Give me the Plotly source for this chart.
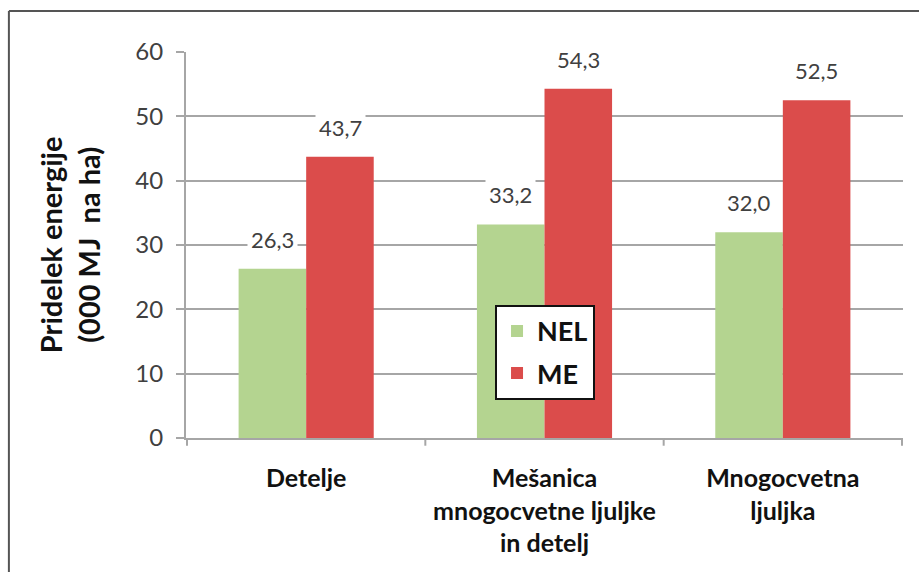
import plotly.graph_objects as go

categories = ["Detelje", "Mešanica<br>mnogocvetne ljuljke<br>in detelj", "Mnogocvetna<br>ljuljka"]
nel_values = [26.3, 33.2, 32.0]
me_values = [43.7, 54.3, 52.5]
series_names = ["NEL", "ME"]
y_ticks = [0, 10, 20, 30, 40, 50, 60]

GREEN = "#b4d490"
RED = "#db4c4b"
FONT = "Lato, 'Open Sans', sans-serif"

fig = go.Figure()
fig.add_trace(go.Bar(x=categories, y=nel_values, name=series_names[0],
                     marker=dict(color=GREEN, line=dict(width=0)), legendgroup="a"))
fig.add_trace(go.Bar(x=categories, y=me_values, name=series_names[1],
                     marker=dict(color=RED, line=dict(width=0)), legendgroup="b"))

# value labels with white boxes that interrupt the gridlines
annotations = []
for vals, shift in ((nel_values, -34), (me_values, 34)):
    for cat, v in zip(categories, vals):
        annotations.append(dict(
            x=cat, y=v, xref="x", yref="y", xshift=shift, yshift=12,
            text=f"{v:.1f}".replace(".", ","), showarrow=False,
            yanchor="bottom", bgcolor="white", borderpad=3,
            font=dict(family=FONT, size=22, color="#404040"),
        ))

annotations.append(dict(
    x=-0.163, y=0.5, xref="paper", yref="paper", textangle=-90,
    xanchor="center", yanchor="middle",
    text="<b>Pridelek energije<br>(000 MJ  na ha)</b>", showarrow=False,
    font=dict(family=FONT, size=29, color="#111111"),
))

fig.update_layout(
    width=919, height=572,
    margin=dict(l=186, r=16, t=52, b=134),
    paper_bgcolor="white", plot_bgcolor="white",
    barmode="group", bargap=0.433, bargroupgap=0,
    annotations=annotations,
    showlegend=True,
    legend=dict(
        x=0.431, y=0.345, xanchor="left", yanchor="top",
        bgcolor="white", bordercolor="#111111", borderwidth=2,
        font=dict(family=FONT, size=27, color="#111111", weight="bold"),
        tracegroupgap=4, traceorder="grouped",
    ),
    xaxis=dict(
        showline=True, linecolor="#a6a6a6", linewidth=2,
        ticks="", showgrid=False, ticklabelstandoff=17,
        tickfont=dict(family=FONT, size=25, color="#111111", weight="bold"),
    ),
    yaxis=dict(
        range=[0, 60], tickvals=y_ticks, ticktext=[str(t) for t in y_ticks],
        showgrid=True, gridcolor="#a6a6a6", gridwidth=2,
        showline=True, linecolor="#a6a6a6", linewidth=2,
        ticks="outside", ticklen=8, tickcolor="#a6a6a6", tickwidth=2,
        ticklabelstandoff=8,
        tickfont=dict(family=FONT, size=24, color="#404040"),
        zeroline=False,
    ),
    shapes=[
        # outer frame (left and top edges)
        dict(type="line", xref="paper", yref="paper", x0=-0.247, x1=-0.247, y0=-0.5, y1=1.106,
             line=dict(color="#555555", width=2)),
        dict(type="line", xref="paper", yref="paper", x0=-0.247, x1=1.1, y0=1.106, y1=1.106,
             line=dict(color="#555555", width=2)),
        # category separators on the baseline
        *[dict(type="line", xref="x", yref="paper", x0=i - 0.5, x1=i - 0.5, y0=0, y1=-0.02,
               line=dict(color="#a6a6a6", width=2)) for i in range(len(categories) + 1)],
    ],
)

fig.write_html("out.html")
